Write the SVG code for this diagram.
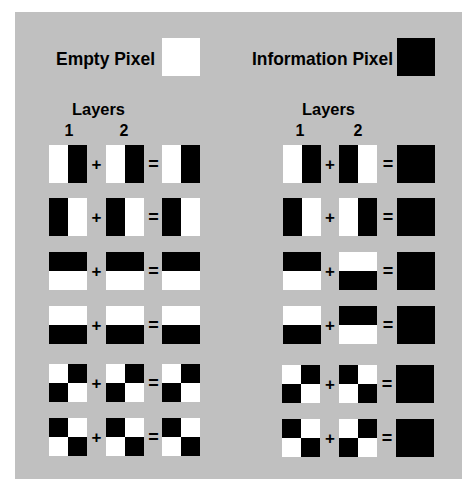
<svg xmlns="http://www.w3.org/2000/svg" xmlns:xlink="http://www.w3.org/1999/xlink" width="462" height="479" viewBox="0 0 462 479">
<style>
.t{font-family:"Liberation Sans",Arial,sans-serif;font-weight:bold;fill:#000}
.op{font-family:"Liberation Sans",Arial,sans-serif;font-weight:bold;fill:#000;text-anchor:middle}
.pl{font-size:17px}
.eq{font-size:18px}
.w{fill:#fff}
.k{fill:#000}
</style>
<defs>
<g id="vR"><rect class="w" width="38" height="38"/><rect class="k" x="19" width="19" height="38"/></g>
<g id="vL"><rect class="w" width="38" height="38"/><rect class="k" width="19" height="38"/></g>
<g id="hT"><rect class="w" width="38" height="38"/><rect class="k" width="38" height="19"/></g>
<g id="hB"><rect class="w" width="38" height="38"/><rect class="k" y="19" width="38" height="19"/></g>
<g id="cA"><rect class="w" width="38" height="38"/><rect class="k" x="19" width="19" height="19"/><rect class="k" y="19" width="19" height="19"/></g>
<g id="cB"><rect class="w" width="38" height="38"/><rect class="k" width="19" height="19"/><rect class="k" x="19" y="19" width="19" height="19"/></g>
<g id="full"><rect class="k" width="38" height="38"/></g>
</defs>
<rect x="15" y="12" width="447" height="467" fill="#c0c0c0"/>
<g id="legend">
<text class="t" x="56" y="65" font-size="19" textLength="99" lengthAdjust="spacingAndGlyphs">Empty Pixel</text>
<rect class="w" x="162" y="38" width="38" height="38"/>
<text class="t" x="252" y="65" font-size="19" textLength="141" lengthAdjust="spacingAndGlyphs">Information Pixel</text>
<rect class="k" x="397" y="38" width="38" height="38"/>
</g>
<g id="headers">
<text class="t" x="72" y="115" font-size="17" textLength="53" lengthAdjust="spacingAndGlyphs">Layers</text>
<text class="op" x="69" y="136" font-size="16">1</text>
<text class="op" x="124" y="136" font-size="16">2</text>
<text class="t" x="302" y="115" font-size="17" textLength="53" lengthAdjust="spacingAndGlyphs">Layers</text>
<text class="op" x="300" y="136" font-size="16">1</text>
<text class="op" x="358" y="136" font-size="16">2</text>
</g>
<g id="connectors"/>
<g id="left1"><use xlink:href="#vR" x="49" y="145"/><text class="op pl" x="96.5" y="170">+</text><use xlink:href="#vR" x="106" y="145"/><text class="op eq" x="153.5" y="170">=</text><use xlink:href="#vR" x="162" y="145"/></g>
<g id="left2"><use xlink:href="#vL" x="49" y="198"/><text class="op pl" x="96.5" y="223">+</text><use xlink:href="#vL" x="106" y="198"/><text class="op eq" x="153.5" y="223">=</text><use xlink:href="#vL" x="162" y="198"/></g>
<g id="left3"><use xlink:href="#hT" x="49" y="252"/><text class="op pl" x="96.5" y="277">+</text><use xlink:href="#hT" x="106" y="252"/><text class="op eq" x="153.5" y="277">=</text><use xlink:href="#hT" x="162" y="252"/></g>
<g id="left4"><use xlink:href="#hB" x="49" y="306"/><text class="op pl" x="96.5" y="331">+</text><use xlink:href="#hB" x="106" y="306"/><text class="op eq" x="153.5" y="331">=</text><use xlink:href="#hB" x="162" y="306"/></g>
<g id="left5"><use xlink:href="#cA" x="49" y="364"/><text class="op pl" x="96.5" y="389">+</text><use xlink:href="#cA" x="106" y="364"/><text class="op eq" x="153.5" y="389">=</text><use xlink:href="#cA" x="162" y="364"/></g>
<g id="left6"><use xlink:href="#cB" x="49" y="418"/><text class="op pl" x="96.5" y="443">+</text><use xlink:href="#cB" x="106" y="418"/><text class="op eq" x="153.5" y="443">=</text><use xlink:href="#cB" x="162" y="418"/></g>
<g id="right1"><use xlink:href="#vR" x="283" y="145"/><text class="op pl" x="330" y="170">+</text><use xlink:href="#vL" x="339" y="145"/><text class="op eq" x="388" y="170">=</text><use xlink:href="#full" x="397" y="145"/></g>
<g id="right2"><use xlink:href="#vL" x="283" y="198"/><text class="op pl" x="330" y="223">+</text><use xlink:href="#vR" x="339" y="198"/><text class="op eq" x="388" y="223">=</text><use xlink:href="#full" x="397" y="198"/></g>
<g id="right3"><use xlink:href="#hT" x="283" y="252"/><text class="op pl" x="330" y="277">+</text><use xlink:href="#hB" x="339" y="252"/><text class="op eq" x="388" y="277">=</text><use xlink:href="#full" x="397" y="252"/></g>
<g id="right4"><use xlink:href="#hB" x="283" y="306"/><text class="op pl" x="330" y="331">+</text><use xlink:href="#hT" x="339" y="306"/><text class="op eq" x="388" y="331">=</text><use xlink:href="#full" x="397" y="306"/></g>
<g id="right5"><use xlink:href="#cA" x="282" y="365"/><text class="op pl" x="330" y="390">+</text><use xlink:href="#cB" x="339" y="365"/><text class="op eq" x="387" y="390">=</text><use xlink:href="#full" x="396" y="365"/></g>
<g id="right6"><use xlink:href="#cB" x="282" y="419"/><text class="op pl" x="330" y="444">+</text><use xlink:href="#cA" x="339" y="419"/><text class="op eq" x="387" y="444">=</text><use xlink:href="#full" x="396" y="419"/></g>
</svg>
